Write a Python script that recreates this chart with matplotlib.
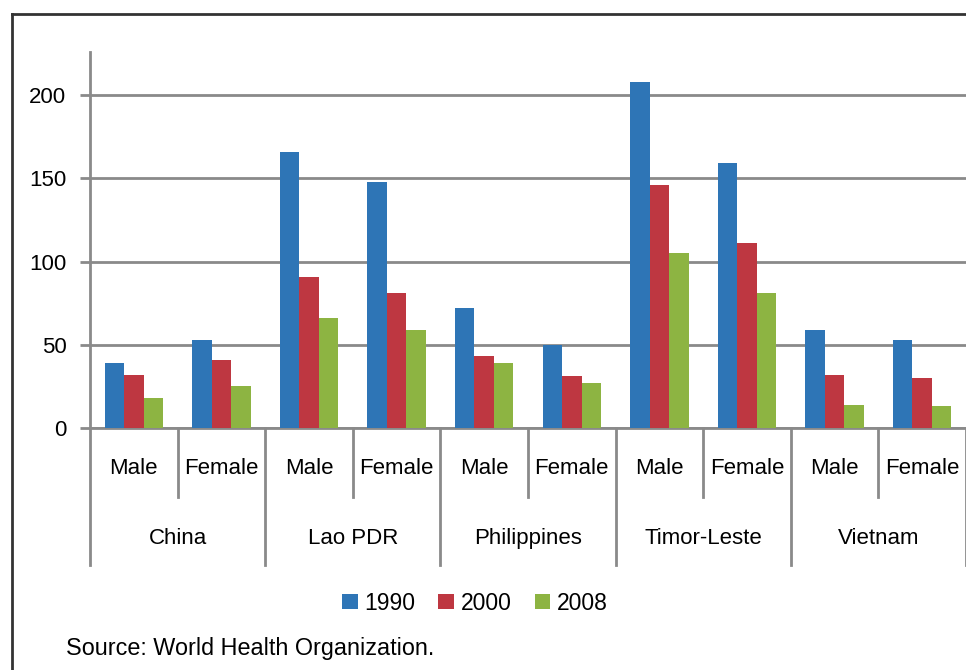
import numpy as np
import matplotlib.pyplot as plt
from matplotlib.lines import Line2D
import matplotlib.transforms as mtransforms

countries = ["China", "Lao PDR", "Philippines", "Timor-Leste", "Vietnam"]
sexes = ["Male", "Female"]
years = ["1990", "2000", "2008"]
# order: China M, China F, Lao M, Lao F, ...
v1990 = [39, 53, 166, 148, 72, 50, 208, 159, 59, 53]
v2000 = [32, 41, 91, 81, 43, 31, 146, 111, 32, 30]
v2008 = [18, 25, 66, 59, 39, 27, 105, 81, 14, 13]
colors = ["#2E75B6", "#BE3741", "#8DB442"]

plt.rcParams['font.family'] = ['Liberation Sans', 'DejaVu Sans']
grey = "#8a8a8a"
fs = 16

fig = plt.figure(figsize=(9.66, 6.70), dpi=100)
ax = fig.add_axes([90/966, 1-428/670, 1-90/966, 376/670])

x = np.arange(len(v1990))
w = 1/4.5
for k, (vals, c, lab) in enumerate(zip([v1990, v2000, v2008], colors, years)):
    ax.bar(x + (k-1)*w, vals, width=w, color=c, label=lab, zorder=3)

ax.set_xlim(-0.5, 9.5)
ax.set_ylim(0, 226)
ax.set_yticks([0, 50, 100, 150, 200])
ax.tick_params(axis='y', labelsize=fs, length=7, width=2, color=grey, pad=10)
ax.set_xticks([])
ax.grid(axis='y', color=grey, lw=2, zorder=0)
for s in ["top", "right"]:
    ax.spines[s].set_visible(False)
ax.spines["left"].set_color(grey)
ax.spines["left"].set_linewidth(2)
ax.spines["bottom"].set_color(grey)
ax.spines["bottom"].set_linewidth(2)

# hierarchical category labels
tr = mtransforms.blended_transform_factory(ax.transData, ax.transAxes)
for i in range(len(v1990)):
    ax.text(i, -0.109, sexes[i % 2], transform=tr, ha='center', va='center', fontsize=fs)
for j, c in enumerate(countries):
    ax.text(2*j + 0.5, -0.293, c, transform=tr, ha='center', va='center', fontsize=fs)
for i in range(11):
    xs = i - 0.5
    y1 = -0.364 if i % 2 == 0 else -0.1835
    ax.add_line(Line2D([xs, xs], [0, y1], transform=tr, color=grey, lw=2, clip_on=False))

leg = fig.legend(loc='center', bbox_to_anchor=(475/966, 1-603/670), ncol=3, frameon=False,
                 fontsize=16.5, handlelength=0.68, handleheight=0.68, handletextpad=0.3,
                 columnspacing=1.0)

fig.text(66/966, 1-648/670, "Source: World Health Organization.", fontsize=16.8, va='center')

# frame around figure
fig.add_artist(Line2D([12/966, 12/966], [0, 1-14/670], transform=fig.transFigure, color="#333333", lw=2))
fig.add_artist(Line2D([12/966, 1], [1-14/670, 1-14/670], transform=fig.transFigure, color="#333333", lw=2))

fig.savefig("out.png", dpi=100)
